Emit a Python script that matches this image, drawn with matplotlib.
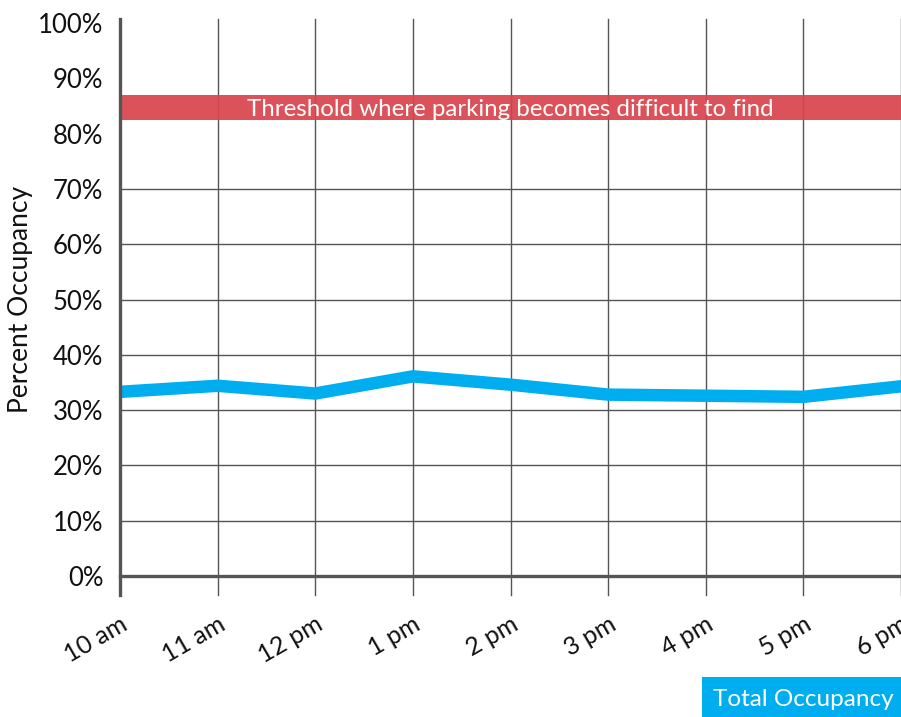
import matplotlib.pyplot as plt

# Data
hours = ['10 am', '11 am', '12 pm', '1 pm', '2 pm', '3 pm', '4 pm', '5 pm', '6 pm']
occupancy = [33.3, 34.4, 33.0, 36.1, 34.6, 32.8, 32.6, 32.4, 34.3]
threshold_low = 82.4
threshold_high = 87.0
y_ticks = [0, 10, 20, 30, 40, 50, 60, 70, 80, 90, 100]
grid_rows = [10, 20, 30, 40, 50, 60, 70]

plt.rcParams['font.family'] = ['Lato', 'DejaVu Sans']

fig = plt.figure(figsize=(9.01, 7.17), dpi=100)
ax = fig.add_axes([120 / 901, 1 - 576 / 717, 781 / 901, 553 / 717])

x = list(range(len(hours)))

# grid
for y in grid_rows:
    ax.axhline(y, color='#555555', lw=1.0, zorder=1)
for i in x[1:]:
    ax.axvline(i, ymin=-0.034, ymax=1.007, color='#555555', lw=1.0,
               clip_on=False, zorder=1)

# threshold band
ax.axhspan(threshold_low, threshold_high, color='#d9434c', alpha=0.92, lw=0, zorder=2)
ax.text(0.5, (threshold_low + threshold_high) / 2 - 0.3,
        'Threshold where parking becomes difficult to find',
        transform=ax.get_yaxis_transform(), ha='center', va='center',
        color='white', fontsize=17.3, zorder=3)

# occupancy line
ax.plot(x, occupancy, color='#00aeef', lw=9, solid_joinstyle='miter', zorder=4)

ax.set_xlim(0, len(hours) - 1)
ax.set_ylim(0, 100)

ax.set_yticks(y_ticks)
ax.set_yticklabels([f'{v}%' for v in y_ticks], fontsize=18.5)
ax.set_xticks(x)
ax.set_xticklabels(hours, fontsize=18, rotation=30, ha='right', rotation_mode='anchor')
ax.tick_params(axis='both', length=0, colors='#111111')
ax.tick_params(axis='y', pad=12)
ax.tick_params(axis='x', pad=26)

for side in ['top', 'right']:
    ax.spines[side].set_visible(False)
ax.spines['left'].set_color('#555555')
ax.spines['left'].set_linewidth(2.4)
ax.spines['left'].set_bounds(-3.4, 100.7)
ax.spines['bottom'].set_color('#555555')
ax.spines['bottom'].set_linewidth(2.4)
ax.spines['left'].set_zorder(5)
ax.spines['bottom'].set_zorder(5)

ax.set_ylabel('Percent Occupancy', fontsize=19, color='#111111')
ax.yaxis.set_label_coords(-0.112, 0.5)

# legend box
fig.text(0.992, 0.025, 'Total Occupancy', ha='right', va='center', color='white',
         fontsize=17.5, bbox=dict(facecolor='#00aeef', edgecolor='none', pad=8))

fig.savefig('out.png', dpi=100)
